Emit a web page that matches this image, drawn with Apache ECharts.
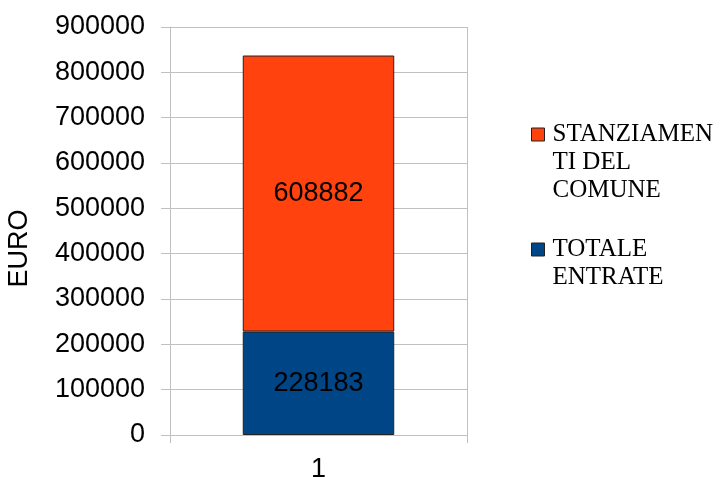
<!DOCTYPE html>
<html>
<head>
<meta charset="utf-8">
<script src="https://cdn.jsdelivr.net/npm/echarts@6/dist/echarts.min.js"></script>
<style>html,body{margin:0;padding:0;background:#fff;}#c{width:720px;height:477px;}</style>
</head>
<body>
<div id="c"></div>
<script>
const categories = ['1'];
const seriesNames = ['TOTALE ENTRATE', 'STANZIAMENTI DEL COMUNE'];
const totaleEntrate = [228183];
const stanziamentiComune = [608882];
const yTicks = [0, 100000, 200000, 300000, 400000, 500000, 600000, 700000, 800000, 900000];
const legendLabels = {
  'STANZIAMENTI DEL COMUNE': 'STANZIAMEN\nTI DEL\nCOMUNE',
  'TOTALE ENTRATE': 'TOTALE\nENTRATE'
};

const gridColor = '#c0c0c0';
const chart = echarts.init(document.getElementById('c'));
chart.setOption({
  animation: false,
  backgroundColor: '#fff',
  textStyle: { fontFamily: 'Liberation Sans, Arial, sans-serif' },
  grid: { left: 170, right: 253, top: 27, bottom: 42, containLabel: false, outerBoundsMode: 'none' },
  legend: {
    orient: 'vertical',
    left: 526,
    top: 115,
    itemWidth: 16,
    itemHeight: 84,
    itemGap: 16,
    symbolKeepAspect: true,
    data: [
      { name: seriesNames[1], icon: 'path://M0,0M0,7.5L13,7.5L13,20.5L0,20.5ZM16,84' },
      { name: seriesNames[0], icon: 'path://M0,0M0,21.5L13,21.5L13,34.5L0,34.5ZM16,84' }
    ],
    itemStyle: { borderColor: '#222', borderWidth: 1 },
    formatter: function (n) { return legendLabels[n] || n; },
    textStyle: {
      fontFamily: 'Liberation Serif, Times New Roman, serif',
      fontSize: 25,
      lineHeight: 28,
      color: '#000'
    }
  },
  xAxis: {
    type: 'category',
    data: categories,
    boundaryGap: true,
    axisLine: { show: true, lineStyle: { color: gridColor, width: 1 } },
    axisTick: { show: true, length: 8, alignWithLabel: false, lineStyle: { color: gridColor } },
    splitLine: { show: true, lineStyle: { color: gridColor, width: 1 } },
    axisLabel: { fontSize: 27, color: '#000', margin: 21 }
  },
  yAxis: {
    type: 'value',
    min: yTicks[0],
    max: yTicks[yTicks.length - 1],
    interval: yTicks[1] - yTicks[0],
    name: 'EURO',
    nameLocation: 'middle',
    nameGap: 137,
    nameTextStyle: { fontSize: 27, color: '#000', padding: [0, 35, 0, 0] },
    axisLine: { show: true, lineStyle: { color: gridColor, width: 1 } },
    axisTick: { show: true, length: 9, inside: false, lineStyle: { color: gridColor } },
    splitLine: { show: true, lineStyle: { color: gridColor, width: 1 } },
    axisLabel: { fontSize: 27, color: '#000', margin: 25, formatter: function (v) { return String(v); } }
  },
  series: [
    {
      name: seriesNames[0],
      type: 'bar',
      stack: 'tot',
      data: totaleEntrate,
      barWidth: '51%',
      itemStyle: { color: '#004586', borderColor: '#222', borderWidth: 1 },
      label: { show: true, position: 'inside', color: '#000', fontSize: 27 }
    },
    {
      name: seriesNames[1],
      type: 'bar',
      stack: 'tot',
      data: stanziamentiComune,
      barWidth: '51%',
      itemStyle: { color: '#ff420e', borderColor: '#222', borderWidth: 1 },
      label: { show: true, position: 'inside', color: '#000', fontSize: 27 }
    }
  ]
});
</script>
</body>
</html>
